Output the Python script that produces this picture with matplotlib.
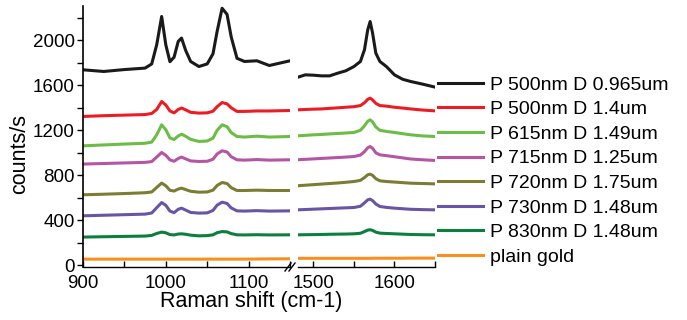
import matplotlib
matplotlib.use("Agg")
import matplotlib.pyplot as plt
from matplotlib.ticker import MultipleLocator

plt.rcParams['font.family'] = ['Liberation Sans', 'DejaVu Sans']

# shared x positions (cm-1) for the two parts of the broken axis
x_left = [900, 925, 950, 975, 983, 989, 995, 1000, 1005, 1010, 1015, 1019, 1024,
          1030, 1040, 1050, 1057, 1062, 1068, 1074, 1079, 1086, 1095, 1110, 1125, 1150]
x_right = [1480, 1490, 1500, 1510, 1520, 1530, 1540, 1550, 1558, 1563, 1567, 1570,
           1573, 1577, 1582, 1590, 1600, 1610, 1620, 1635, 1650]

labels = ["P 500nm D 0.965um", "P 500nm D 1.4um", "P 615nm D 1.49um", "P 715nm D 1.25um",
          "P 720nm D 1.75um", "P 730nm D 1.48um", "P 830nm D 1.48um", "plain gold"]
colors = ["#1a1a1a", "#ec1c24", "#6cbd45", "#b556a4", "#7d7c33", "#6a55a5", "#0c7f3d", "#f7901e"]

black_l = [1738, 1723, 1740, 1753, 1790, 1960, 2212, 1960, 1810, 1850, 1990, 2020, 1910,
           1812, 1767, 1790, 1880, 2080, 2285, 2230, 2030, 1840, 1812, 1818, 1776, 1818]
black_r = [1670, 1693, 1690, 1684, 1684, 1708, 1729, 1767, 1812, 1916, 2093, 2167,
           2064, 1886, 1812, 1767, 1693, 1654, 1634, 1610, 1584]

red_l = [1323, 1330, 1335, 1340, 1350, 1385, 1456, 1425, 1372, 1355, 1385, 1398, 1382,
         1360, 1353, 1355, 1370, 1410, 1447, 1435, 1400, 1368, 1368, 1372, 1372, 1376]
red_r = [1382, 1385, 1388, 1390, 1395, 1400, 1405, 1410, 1420, 1445, 1475, 1486,
         1470, 1440, 1420, 1415, 1405, 1398, 1390, 1380, 1373]

green_l = [1062, 1070, 1078, 1085, 1095, 1160, 1249, 1205, 1132, 1118, 1150, 1166, 1147,
           1120, 1101, 1105, 1130, 1200, 1249, 1232, 1180, 1145, 1140, 1148, 1140, 1145]
green_r = [1151, 1155, 1160, 1163, 1168, 1172, 1176, 1181, 1200, 1240, 1280, 1293,
           1275, 1230, 1200, 1190, 1181, 1170, 1160, 1150, 1145]

magenta_l = [900, 905, 910, 915, 922, 962, 1003, 978, 937, 925, 950, 962, 946,
             928, 923, 925, 943, 990, 1018, 1007, 965, 938, 935, 940, 935, 938]
magenta_r = [938, 942, 946, 950, 954, 958, 962, 967, 980, 1010, 1045, 1056,
             1040, 1000, 982, 975, 965, 955, 945, 938, 932]

olive_l = [627, 632, 638, 645, 652, 692, 731, 707, 667, 660, 678, 686, 673,
           658, 650, 652, 668, 710, 736, 727, 690, 665, 665, 668, 665, 665]
olive_r = [707, 712, 717, 722, 727, 732, 738, 745, 755, 780, 805, 810,
           800, 770, 751, 745, 740, 735, 730, 727, 724]

purple_l = [440, 445, 450, 455, 465, 512, 558, 533, 482, 468, 498, 508, 491,
            470, 464, 466, 488, 535, 561, 550, 510, 484, 482, 486, 482, 484]
purple_r = [493, 496, 499, 502, 505, 508, 511, 514, 525, 555, 582, 588,
            575, 545, 523, 515, 508, 503, 498, 495, 493]

dgreen_l = [251, 254, 257, 260, 266, 283, 295, 289, 273, 270, 278, 280, 276,
            268, 262, 264, 271, 290, 300, 297, 282, 271, 270, 272, 270, 271]
dgreen_r = [271, 272, 273, 274, 276, 277, 278, 280, 285, 300, 313, 316,
            310, 295, 286, 283, 280, 277, 274, 272, 271]

gold_l = [55, 55, 55, 55, 55, 55, 55, 55, 55, 55, 55, 55, 55,
          55, 55, 55, 55, 55, 55, 55, 55, 55, 55, 56, 57, 58]
gold_r = [62, 62, 62, 62, 62, 62, 62, 62, 62, 62, 62, 62,
          63, 63, 63, 63, 63, 63, 64, 64, 64]

left_sets = [black_l, red_l, green_l, magenta_l, olive_l, purple_l, dgreen_l, gold_l]
right_sets = [black_r, red_r, green_r, magenta_r, olive_r, purple_r, dgreen_r, gold_r]

fig = plt.figure(figsize=(6.87, 3.2), dpi=100)
ax1 = fig.add_axes([83 / 687, 53 / 320, 207 / 687, 261 / 320])
ax2 = fig.add_axes([298 / 687, 53 / 320, 137 / 687, 261 / 320])

handles = []
for yl, yr, c, lab in zip(left_sets, right_sets, colors, labels):
    h, = ax1.plot(x_left, yl, color=c, lw=2.2, label=lab, solid_joinstyle='round')
    ax2.plot(x_right, yr, color=c, lw=2.2, solid_joinstyle='round')
    handles.append(h)

for ax in (ax1, ax2):
    ax.set_ylim(-15, 2305)
    ax.spines['top'].set_visible(False)
    ax.spines['right'].set_visible(False)
    ax.xaxis.set_major_locator(MultipleLocator(100))
    ax.xaxis.set_minor_locator(MultipleLocator(50))
    ax.tick_params(axis='x', which='both', direction='in', length=4, width=1, labelsize=13.5, pad=5.5)
    ax.spines['bottom'].set_linewidth(1)

ax1.set_xlim(900, 1150)
ax2.set_xlim(1481, 1650)
ax1.yaxis.set_major_locator(MultipleLocator(400))
ax1.yaxis.set_minor_locator(MultipleLocator(200))
ax1.tick_params(axis='y', which='both', direction='out', length=4, width=1, labelsize=13.5, pad=2)
ax1.spines['left'].set_linewidth(1.2)
ax2.spines['left'].set_visible(False)
ax2.tick_params(axis='y', which='both', left=False, labelleft=False)

# break marks on the x axis
for dx in (-4, 0):
    fig.add_artist(plt.Line2D([(289 + dx) / 687, (295 + dx) / 687],
                              [(320 - 271) / 320, (320 - 263) / 320],
                              color='black', lw=1, transform=fig.transFigure))

fig.text(20 / 687, 0.52, "counts/s", rotation=90, ha='center', va='center', fontsize=15.5)
fig.text(251 / 687, 1 - 302 / 320, "Raman shift (cm-1)", ha='center', va='center', fontsize=15.5)

fig.legend(handles=handles, loc='upper left', bbox_to_anchor=(438 / 687, 1 - 76 / 320),
           frameon=False, fontsize=14, handlelength=2.3, handletextpad=0.36,
           labelspacing=0.36, borderpad=0, borderaxespad=0)

fig.savefig("out.png", dpi=100)
